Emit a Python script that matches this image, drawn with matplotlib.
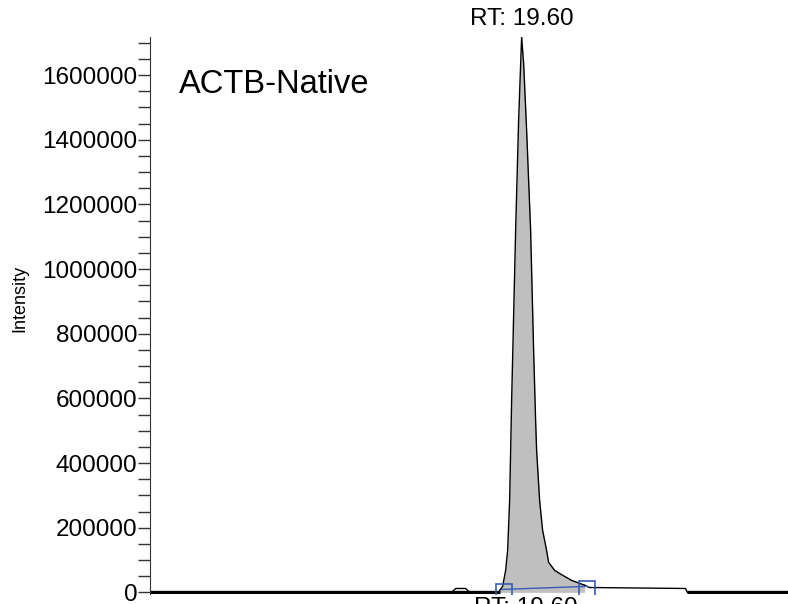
import matplotlib.pyplot as plt
from matplotlib.ticker import MultipleLocator

plt.rcParams['font.family'] = ['Liberation Sans', 'DejaVu Sans']

# chromatogram trace (time in min, intensity)
peak_t = [19.27, 19.315, 19.36, 19.39, 19.42, 19.45, 19.51, 19.555, 19.60,
          19.63, 19.675, 19.705, 19.735, 19.78, 19.81, 19.825, 19.87, 19.915,
          19.975, 20.005, 20.095, 20.215, 20.35, 20.47, 20.545]
peak_i = [6000, 18600, 68000, 130000, 285000, 594000, 1120000, 1461000, 1718000,
          1637000, 1430000, 1275000, 1120000, 749000, 532000, 440000, 285000, 192000,
          130000, 93000, 68000, 53000, 37000, 28000, 22000]
tail_t = [20.545, 20.62, 22.06, 22.09]
tail_i = [22000, 15000, 12000, 0]
bump_t = [18.55, 18.61, 18.76, 18.82]
bump_i = [0, 12000, 12000, 0]
base_left = [14.02, 19.27]
base_right = [22.09, 23.60]

# integration boundaries
bound_t = [19.33, 20.58]
bound_i = [0, 11000]
bline_t = [19.30, 20.59]
bline_i = [9000, 18600]

rt_label = "RT: 19.60"
title = "ACTB-Native"

fig = plt.figure(figsize=(7.88, 6.04), dpi=100)
ax = fig.add_axes([0.1904, 0.0166, 0.8096, 0.9221])

ax.fill_between(peak_t, peak_i, 0, color='#bfbfbf', lw=0)
ax.plot(peak_t, peak_i, color='black', lw=1)
ax.plot(tail_t, tail_i, color='black', lw=1)
ax.plot(bump_t, bump_i, color='black', lw=1)
ax.plot(base_left, [0, 0], color='black', lw=2.4, solid_capstyle='butt')
ax.plot(base_right, [0, 0], color='black', lw=2.4, solid_capstyle='butt')
ax.plot(bline_t, bline_i, color='#3a5bb5', lw=1)
ax.plot(bound_t, bound_i, 's', ms=12, mfc='none', mec='#3a5bb5', mew=1.2)

ax.set_xlim(14.02, 23.60)
ax.set_ylim(-5000, 1718000)

for s in ['top', 'right', 'bottom']:
    ax.spines[s].set_visible(False)
ax.spines['left'].set_color('#333333')
ax.set_xticks([])
ax.set_yticks([v for v in range(0, 1600001, 200000)])
ax.yaxis.set_minor_locator(MultipleLocator(50000))
ax.ticklabel_format(axis='y', style='plain', useOffset=False)
ax.tick_params(axis='y', which='both', direction='out', length=9, width=1,
               color='#333333', labelsize=17.5, pad=0)
ax.set_ylabel("Intensity", fontsize=13)
ax.yaxis.set_label_coords(-0.19, 0.53)

ax.text(19.60, 1740000, rt_label, ha='center', va='bottom', fontsize=17.5)
ax.text(0.045, 0.915, title, transform=ax.transAxes, fontsize=23.5, va='center')
fig.text(526 / 788, (604 - 597) / 604, rt_label, ha='center', va='top', fontsize=17.5)

fig.savefig('out.png', dpi=100)
